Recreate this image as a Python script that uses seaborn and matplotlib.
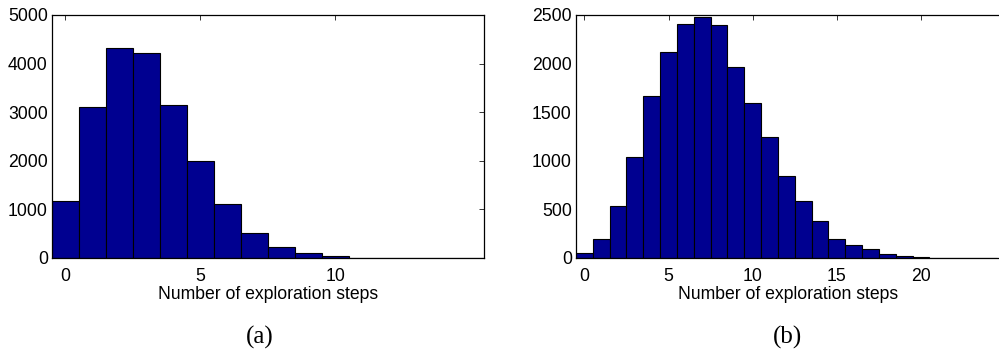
import matplotlib
matplotlib.use("Agg")
import matplotlib.pyplot as plt
import seaborn as sns
import numpy as np

# Histogram counts per number of exploration steps
steps_a = list(range(16))
counts_a = [1180, 3100, 4330, 4220, 3150, 2000, 1110, 510, 230, 95, 35, 10, 4, 2, 1, 1]

steps_b = list(range(25))
counts_b = [55, 200, 535, 1040, 1670, 2115, 2405, 2480, 2400, 1960, 1595, 1245,
            840, 585, 385, 195, 130, 90, 45, 20, 8, 5, 2, 1, 1]

xticks_a = [0, 5, 10]
yticks_a = [0, 1000, 2000, 3000, 4000, 5000]
xticks_b = [0, 5, 10, 15, 20]
yticks_b = [0, 500, 1000, 1500, 2000, 2500]

xlabel = "Number of exploration steps"
panel_labels = ["(a)", "(b)"]

sns.set_style("white")
plt.rcParams["font.family"] = ["Liberation Sans", "DejaVu Sans"]
plt.rcParams.update({
    "text.color": "black",
    "axes.labelcolor": "black",
    "xtick.labelcolor": "black",
    "ytick.labelcolor": "black",
})

BAR = "#000090"
W, H = 999, 352
fig = plt.figure(figsize=(W / 100, H / 100), dpi=100)


def px_axes(left, right, top, bottom):
    return fig.add_axes([left / W, 1 - bottom / H, (right - left) / W, (bottom - top) / H])


ax_a = px_axes(52, 483.5, 15, 258)
ax_b = px_axes(576, 1001, 15, 258)

panels = [
    (ax_a, steps_a, counts_a, xticks_a, yticks_a, (-0.5, 15.5), (0, 5000), True),
    (ax_b, steps_b, counts_b, xticks_b, yticks_b, (-0.5, 24.75), (0, 2500), False),
]

for ax, steps, counts, xt, yt, xl, yl, right_ticks in panels:
    sns.histplot(x=steps, weights=counts, discrete=True, color=BAR,
                 edgecolor="black", linewidth=0.8, alpha=1, ax=ax)
    ax.set_xlim(*xl)
    ax.set_ylim(*yl)
    ax.set_xticks(xt)
    ax.set_yticks(yt)
    ax.set_ylabel("")
    ax.set_xlabel(xlabel, fontsize=12.7, labelpad=1, color="black")
    ax.set_axisbelow(True)
    ax.tick_params(direction="in", top=True, right=right_ticks, length=3.5, width=0.7,
                   labelsize=12.7, color="#333333", labelcolor="black")
    ax.tick_params(axis="x", pad=7)
    ax.tick_params(axis="y", pad=3)
    for s in ax.spines.values():
        s.set_color("black")
        s.set_linewidth(0.9)

fig.text(260 / W, 1 - 337 / H, panel_labels[0], ha="center", va="center",
         fontsize=18, family=["Liberation Serif", "DejaVu Serif"])
fig.text(787 / W, 1 - 337 / H, panel_labels[1], ha="center", va="center",
         fontsize=18, family=["Liberation Serif", "DejaVu Serif"])

fig.savefig("out.png", dpi=100)
